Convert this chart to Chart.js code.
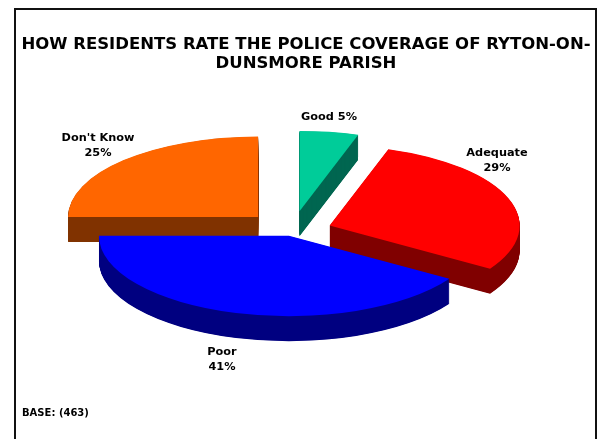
<!DOCTYPE html>
<html><head><meta charset="utf-8">
<style>html,body{margin:0;padding:0;background:#fff}canvas{display:block}</style>
<script src="https://cdn.jsdelivr.net/npm/chart.js@4/dist/chart.umd.js"></script>
</head><body><canvas id="c" width="600" height="439"></canvas>
<script>
const categories = ["Good", "Adequate", "Poor", "Don't Know"];
const values = [5, 29, 41, 25];
const topColors = ["#00CC99", "#FF0000", "#0000FF", "#FF6600"];
const sideColors = ["#006650", "#800000", "#000080", "#803300"];
const titleLines = ["HOW RESIDENTS RATE THE POLICE COVERAGE OF RYTON-ON-", "DUNSMORE PARISH"];
const baseNote = "BASE: (463)";

const explode = [48, 40, 11, 48];
const centre = {x: 292, y: 231.3}, squash = 0.423, depth = 25;
const drawOrder = [3, 0, 1, 2];
const labelFont = "bold 11.3px 'DejaVu Sans'";
const labelLines = [
  [categories[0] + " " + values[0] + "%"],
  [categories[1], values[1] + "%"],
  [categories[2], values[2] + "%"],
  [categories[3], values[3] + "%"]
];
const labelAnchors = [[329, 117], [497, 153], [222, 352], [98, 138]];

const pie3d = {
  id: "pie3d",
  beforeDraw(chart) {
    const c = chart.ctx;
    c.save();
    c.fillStyle = "#fff";
    c.fillRect(0, 0, 600, 439);
    c.strokeStyle = "#111";
    c.lineWidth = 2;
    c.beginPath();
    c.moveTo(15, 439); c.lineTo(15, 9); c.lineTo(596, 9); c.lineTo(596, 439);
    c.stroke();
    c.restore();
  },
  beforeDatasetDraw(chart, args) {
    const c = chart.ctx, arcs = args.meta.data;
    drawOrder.forEach(i => {
      const el = arcs[i];
      const mid = (el.startAngle + el.endAngle) / 2;
      const side = Object.create(el);
      side.options = Object.assign({}, el.options, {backgroundColor: sideColors[i], borderWidth: 0});
      const paint = (shape, dy) => {
        c.save();
        c.translate(centre.x, centre.y + dy);
        c.scale(1, squash);
        c.translate(Math.cos(mid) * explode[i] - el.x, Math.sin(mid) * explode[i] - el.y);
        shape.draw(c);
        c.restore();
      };
      for (let k = depth; k > 0; k -= 0.5) paint(side, k);
      paint(el, 0);
    });
    return false;
  },
  afterDraw(chart) {
    const c = chart.ctx;
    c.save();
    c.fillStyle = "#000";
    c.font = labelFont;
    c.textAlign = "center";
    c.textBaseline = "middle";
    labelLines.forEach((lines, i) => {
      lines.forEach((t, j) => c.fillText(t, labelAnchors[i][0], labelAnchors[i][1] + j * 15));
    });
    c.textAlign = "left";
    c.font = "bold 10px 'DejaVu Sans'";
    c.fillText(baseNote, 22, 413);
    c.restore();
  }
};

new Chart(document.getElementById("c"), {
  type: "pie",
  data: {
    labels: categories,
    datasets: [{
      data: values,
      backgroundColor: topColors,
      borderWidth: 0
    }]
  },
  options: {
    responsive: false,
    animation: false,
    radius: 190,
    layout: {padding: {left: 12}},
    events: [],
    plugins: {
      legend: {display: false},
      tooltip: {enabled: false},
      title: {
        display: true,
        text: titleLines,
        color: "#000",
        font: {family: "'DejaVu Sans'", size: 16.5, weight: "bold", lineHeight: 1.15},
        padding: {top: 35, bottom: 10}
      }
    }
  },
  plugins: [pie3d]
});
</script></body></html>
